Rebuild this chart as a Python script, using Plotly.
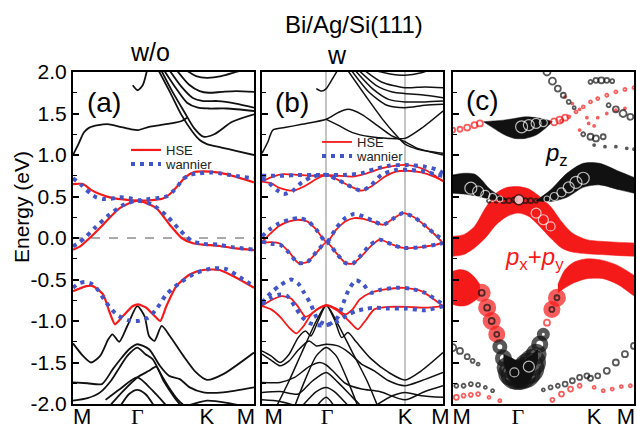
import plotly.graph_objects as go

# ---------------- ticks / labels ----------------
K_LABELS = ["M", "<span style='font-family:Liberation Serif'>Γ</span>", "K", "M"]
K_TICKS_A = [0.05, 0.355, 0.74, 0.955]
K_TICKS_B = [0.065, 0.36, 0.79, 0.985]
K_TICKS_C = [0.05, 0.36, 0.78, 0.955]
B_SYM_LINES = [0.355, 0.788]          # Γ and K guide lines in panel (b)
E_TICKS = [2.0, 1.5, 1.0, 0.5, 0.0, -0.5, -1.0, -1.5, -2.0]
E_LABELS = ["2.0", "1.5", "1.0", "0.5", "0.0", "-0.5", "-1.0", "-1.5", "-2.0"]
FERMI = 0.0

# ---------------- panel (a): w/o ----------------
A_BLACK = [
    [(0, 1.0), (0.03, 1.13), (0.06, 1.27), (0.09, 1.33), (0.14, 1.36), (0.2, 1.37), (0.26, 1.34), (0.32, 1.31),
     (0.36, 1.30), (0.42, 1.34), (0.48, 1.36), (0.54, 1.38), (0.6, 1.41), (0.63, 1.45)],
    [(0.33, 1.84), (0.357, 1.78), (0.385, 1.84), (0.41, 2.03)],
    [(0.62, 2.03), (0.68, 1.95), (0.74, 1.93), (0.82, 1.95), (0.9, 2.0), (0.95, 2.03)],
    [(0.57, 2.03), (0.64, 1.85), (0.7, 1.77), (0.75, 1.75), (0.82, 1.76), (0.9, 1.77), (1.0, 1.76)],
    [(0.53, 2.03), (0.6, 1.82), (0.66, 1.69), (0.72, 1.65), (0.8, 1.65), (0.9, 1.62), (1.0, 1.57)],
    [(0.5, 2.03), (0.57, 1.80), (0.63, 1.63), (0.69, 1.57), (0.75, 1.56), (0.85, 1.56), (1.0, 1.53)],
    [(0.485, 2.03), (0.55, 1.76), (0.62, 1.50), (0.67, 1.32), (0.72, 1.22), (0.78, 1.25), (0.88, 1.40), (1.0, 1.49)],
    [(0.47, 2.03), (0.54, 1.74), (0.6, 1.48), (0.66, 1.28), (0.7, 1.18), (0.74, 1.13), (0.82, 1.09), (0.9, 1.05), (1.0, 1.0)],
    [(0, -1.27), (0.055, -1.42), (0.10, -1.50), (0.15, -1.42), (0.195, -1.22), (0.218, -1.16), (0.255, -1.25),
     (0.30, -1.06), (0.355, -0.82), (0.395, -0.94), (0.42, -1.18), (0.45, -1.24), (0.49, -1.06), (0.535, -1.18),
     (0.61, -1.42), (0.68, -1.62), (0.74, -1.71), (0.83, -1.64), (1.0, -1.38)],
    [(0, -1.74), (0.08, -1.75), (0.16, -1.76), (0.22, -1.58), (0.27, -1.44), (0.31, -1.34), (0.355, -1.28),
     (0.42, -1.34), (0.48, -1.54), (0.53, -1.66), (0.59, -1.70), (0.645, -1.80), (0.72, -1.86), (0.83, -1.86), (1.0, -1.80)],
    [(0, -1.96), (0.08, -1.93), (0.15, -1.86), (0.21, -1.72), (0.26, -1.55), (0.30, -1.42), (0.355, -1.32),
     (0.40, -1.40), (0.44, -1.46), (0.48, -1.62), (0.53, -1.80), (0.58, -1.95), (0.62, -2.03)],
    [(0.2, -2.03), (0.27, -1.86), (0.355, -1.68), (0.42, -1.60), (0.46, -1.55), (0.50, -1.72), (0.56, -1.92), (0.6, -2.03)],
    [(0.18, -1.95), (0.26, -1.82), (0.355, -1.68), (0.44, -1.84), (0.52, -2.03)],
    [(0.26, -2.03), (0.31, -1.88), (0.355, -1.83), (0.40, -1.88), (0.45, -2.03)],
    [(0.62, -2.03), (0.74, -1.96), (0.86, -1.99), (0.95, -2.03)],
]
A_HSE = [
    [(0, 0.65), (0.055, 0.65), (0.10, 0.58), (0.147, 0.53), (0.22, 0.48), (0.357, 0.45), (0.45, 0.46), (0.50, 0.48),
     (0.535, 0.53), (0.571, 0.61), (0.62, 0.73), (0.663, 0.79), (0.755, 0.80), (0.847, 0.77), (1.0, 0.67)],
    [(0, -0.14), (0.04, -0.10), (0.092, 0.0), (0.166, 0.16), (0.258, 0.36), (0.357, 0.45), (0.46, 0.36), (0.534, 0.16),
     (0.60, 0.0), (0.663, -0.064), (0.718, -0.08), (0.81, -0.096), (0.90, -0.125), (1.0, -0.145)],
    [(0, -0.64), (0.074, -0.58), (0.11, -0.58), (0.166, -0.68), (0.203, -0.90), (0.232, -1.04), (0.276, -0.94),
     (0.331, -0.82), (0.359, -0.80), (0.405, -0.84), (0.451, -0.94), (0.482, -1.0), (0.516, -0.82), (0.571, -0.58),
     (0.645, -0.44), (0.718, -0.385), (0.81, -0.385), (0.902, -0.48), (1.0, -0.60)],
]
A_WAN = [
    [(0, 0.72), (0.046, 0.64), (0.074, 0.58), (0.101, 0.53), (0.129, 0.49), (0.166, 0.47), (0.2, 0.47), (0.258, 0.49),
     (0.313, 0.48), (0.36, 0.455), (0.42, 0.47), (0.46, 0.48), (0.516, 0.50), (0.552, 0.56), (0.58, 0.63), (0.608, 0.71),
     (0.645, 0.76), (0.70, 0.78), (0.755, 0.79), (0.81, 0.78), (0.866, 0.76), (0.92, 0.74), (1.0, 0.72)],
    [(0, -0.10), (0.03, -0.06), (0.074, 0.02), (0.12, 0.12), (0.2, 0.28), (0.28, 0.40), (0.357, 0.45), (0.44, 0.40),
     (0.52, 0.26), (0.58, 0.12), (0.625, 0.02), (0.66, -0.04), (0.72, -0.07), (0.8, -0.08), (0.88, -0.11), (1.0, -0.14)],
    [(0, -0.60), (0.03, -0.55), (0.064, -0.53), (0.1, -0.55), (0.129, -0.60), (0.184, -0.78), (0.24, -0.92),
     (0.304, -0.99), (0.359, -1.0), (0.414, -0.96), (0.46, -0.86), (0.516, -0.68), (0.59, -0.54), (0.68, -0.42),
     (0.773, -0.365), (0.847, -0.375), (0.94, -0.50), (1.0, -0.58)],
]

# ---------------- panel (b): w ----------------
B_BLACK = [
    [(0.3, 1.80), (0.33, 1.77), (0.355, 1.80), (0.39, 1.92), (0.42, 2.03)],
    [(0, 1.02), (0.033, 1.16), (0.06, 1.30), (0.125, 1.33), (0.22, 1.37), (0.355, 1.43), (0.42, 1.51), (0.475, 1.55),
     (0.55, 1.49), (0.64, 1.35), (0.71, 1.24), (0.79, 1.16), (0.86, 1.08), (1.0, 1.0)],
    [(0.355, 1.43), (0.42, 1.36), (0.5, 1.27), (0.6, 1.22), (0.7, 1.20), (0.79, 1.20), (0.88, 1.32), (1.0, 1.53)],
    [(0.6, 2.03), (0.7, 1.98), (0.79, 1.96), (0.88, 1.99), (0.93, 2.03)],
    [(0.56, 2.03), (0.66, 1.88), (0.79, 1.81), (0.9, 1.82), (1.0, 1.81)],
    [(0.53, 2.03), (0.63, 1.84), (0.72, 1.76), (0.79, 1.74), (0.9, 1.72), (1.0, 1.69)],
    [(0.51, 2.03), (0.61, 1.80), (0.7, 1.67), (0.79, 1.64), (0.9, 1.64), (1.0, 1.65)],
    [(0.49, 2.03), (0.59, 1.76), (0.69, 1.60), (0.79, 1.57), (0.9, 1.60), (1.0, 1.61)],
    [(0.47, 2.03), (0.57, 1.72), (0.67, 1.42), (0.74, 1.24), (0.79, 1.13), (0.86, 1.07), (1.0, 1.02)],
    [(0, -1.36), (0.05, -1.42), (0.1, -1.50), (0.15, -1.40), (0.2, -1.20), (0.24, -1.12), (0.27, -1.18), (0.31, -1.0),
     (0.355, -0.81), (0.40, -0.98), (0.44, -1.2), (0.475, -1.14), (0.52, -1.25), (0.6, -1.45), (0.7, -1.62),
     (0.79, -1.71), (0.88, -1.6), (1.0, -1.38)],
    [(0, -1.40), (0.05, -1.47), (0.1, -1.54), (0.15, -1.48), (0.2, -1.35), (0.26, -1.24), (0.3, -1.30), (0.355, -1.28),
     (0.42, -1.3), (0.48, -1.38), (0.55, -1.52), (0.62, -1.6), (0.7, -1.72), (0.79, -1.78), (0.88, -1.72), (1.0, -1.62)],
    [(0.08, -2.03), (0.15, -1.72), (0.22, -1.38), (0.3, -1.0), (0.355, -0.81), (0.42, -1.04), (0.5, -1.38),
     (0.58, -1.72), (0.64, -2.03)],
    [(0.18, -2.03), (0.24, -1.7), (0.3, -1.42), (0.355, -1.32), (0.41, -1.42), (0.47, -1.7), (0.53, -2.03)],
    [(0, -1.74), (0.1, -1.74), (0.18, -1.68), (0.26, -1.55), (0.32, -1.50), (0.355, -1.53), (0.4, -1.62), (0.46, -1.75),
     (0.55, -1.82), (0.65, -1.85), (0.79, -1.95), (0.9, -1.85), (1.0, -1.78)],
    [(0, -1.86), (0.1, -1.85), (0.2, -1.88), (0.28, -1.72), (0.355, -1.62), (0.42, -1.74), (0.5, -1.92), (0.55, -2.03)],
    [(0.22, -2.03), (0.3, -1.85), (0.355, -1.80), (0.4, -1.85), (0.48, -2.03)],
    [(0, -1.95), (0.1, -1.97), (0.2, -2.03)],
    [(0.62, -2.03), (0.72, -1.9), (0.79, -1.86), (0.88, -1.9), (1.0, -1.92)],
    [(0.3, -2.03), (0.355, -1.92), (0.4, -2.03)],
]
B_HSE = [
    [(0, 0.68), (0.06, 0.74), (0.12, 0.77), (0.2, 0.76), (0.28, 0.75), (0.355, 0.76), (0.42, 0.75), (0.5, 0.74),
     (0.58, 0.78), (0.66, 0.84), (0.73, 0.87), (0.8, 0.88), (0.88, 0.84), (0.95, 0.76), (1.0, 0.68)],
    [(0, 0.68), (0.05, 0.66), (0.1, 0.60), (0.17, 0.57), (0.24, 0.63), (0.3, 0.71), (0.355, 0.76), (0.42, 0.70),
     (0.49, 0.62), (0.55, 0.57), (0.61, 0.63), (0.68, 0.74), (0.74, 0.80), (0.8, 0.81), (0.88, 0.79), (0.95, 0.74), (1.0, 0.69)],
    [(0, -0.05), (0.04, 0.04), (0.09, 0.14), (0.15, 0.20), (0.2, 0.22), (0.25, 0.20), (0.3, 0.10), (0.357, -0.05),
     (0.41, 0.10), (0.46, 0.20), (0.51, 0.24), (0.56, 0.23), (0.62, 0.19), (0.67, 0.16), (0.73, 0.24), (0.78, 0.30),
     (0.84, 0.25), (0.9, 0.15), (0.96, 0.03), (1.0, -0.06)],
    [(0, -0.06), (0.05, -0.05), (0.1, -0.07), (0.15, -0.17), (0.2, -0.30), (0.25, -0.29), (0.3, -0.18), (0.357, -0.05),
     (0.41, -0.18), (0.46, -0.30), (0.5, -0.31), (0.55, -0.22), (0.6, -0.10), (0.65, -0.02), (0.72, -0.08),
     (0.78, -0.12), (0.88, -0.11), (0.96, -0.08), (1.0, -0.06)],
    [(0, -0.82), (0.05, -0.75), (0.11, -0.70), (0.16, -0.73), (0.2, -0.83), (0.24, -0.95), (0.27, -0.92), (0.31, -0.85),
     (0.355, -0.81), (0.41, -0.85), (0.46, -0.92), (0.5, -0.86), (0.54, -0.74), (0.6, -0.66), (0.68, -0.62),
     (0.78, -0.60), (0.88, -0.64), (1.0, -0.82)],
    [(0, -0.82), (0.05, -0.86), (0.1, -0.95), (0.15, -1.08), (0.19, -1.15), (0.23, -1.06), (0.28, -0.9), (0.355, -0.81),
     (0.42, -0.88), (0.48, -1.0), (0.53, -1.1), (0.57, -1.0), (0.62, -0.86), (0.7, -0.83), (0.8, -0.83), (0.9, -0.84), (1.0, -0.82)],
]
B_WAN = [
    [(0, 0.75), (0.05, 0.75), (0.12, 0.75), (0.2, 0.76), (0.28, 0.76), (0.355, 0.76), (0.45, 0.76), (0.55, 0.78),
     (0.62, 0.83), (0.7, 0.87), (0.8, 0.88), (0.9, 0.86), (0.97, 0.82), (1.0, 0.78)],
    [(0, 0.72), (0.04, 0.66), (0.08, 0.58), (0.12, 0.53), (0.17, 0.57), (0.22, 0.67), (0.28, 0.74), (0.355, 0.76),
     (0.42, 0.70), (0.49, 0.62), (0.55, 0.57), (0.6, 0.63), (0.66, 0.76), (0.74, 0.82), (0.82, 0.82), (0.9, 0.80),
     (0.97, 0.76), (1.0, 0.75)],
    [(0, 0.02), (0.04, 0.10), (0.09, 0.17), (0.15, 0.22), (0.2, 0.24), (0.25, 0.21), (0.3, 0.10), (0.357, -0.05),
     (0.41, 0.12), (0.46, 0.24), (0.51, 0.29), (0.56, 0.26), (0.62, 0.20), (0.67, 0.16), (0.73, 0.24), (0.78, 0.30),
     (0.84, 0.25), (0.9, 0.15), (0.96, 0.04), (1.0, -0.02)],
    [(0, -0.04), (0.05, -0.07), (0.1, -0.08), (0.15, -0.18), (0.2, -0.30), (0.25, -0.29), (0.3, -0.17), (0.357, -0.05),
     (0.41, -0.18), (0.46, -0.30), (0.5, -0.31), (0.55, -0.20), (0.6, -0.08), (0.65, -0.02), (0.72, -0.08),
     (0.78, -0.12), (0.88, -0.11), (0.96, -0.08), (1.0, -0.06)],
    [(0, -0.78), (0.05, -0.66), (0.1, -0.57), (0.16, -0.50), (0.2, -0.55), (0.23, -0.65), (0.27, -0.80), (0.3, -0.95),
     (0.33, -1.02), (0.355, -1.04), (0.38, -1.03), (0.42, -0.95), (0.45, -0.78), (0.48, -0.62), (0.52, -0.51),
     (0.56, -0.56), (0.6, -0.66), (0.66, -0.62), (0.75, -0.60), (0.82, -0.61), (0.9, -0.66), (1.0, -0.80)],
    [(0, -0.80), (0.05, -0.72), (0.1, -0.68), (0.14, -0.70), (0.18, -0.82), (0.22, -0.95), (0.26, -1.02), (0.3, -1.05),
     (0.355, -1.05), (0.42, -1.0), (0.47, -0.93), (0.52, -0.88), (0.58, -0.85), (0.62, -0.84), (0.7, -0.85),
     (0.8, -0.85), (0.9, -0.87), (1.0, -0.82)],
]

# ---------------- panel (c): orbital-projected fat bands ----------------
C_FAT_RED = [
    ([0.0, 0.06, 0.12, 0.18, 0.24, 0.30, 0.36, 0.42, 0.48, 0.54, 0.60, 0.66, 0.74, 0.82, 0.90, 1.0],
     [0.02, 0.04, 0.14, 0.36, 0.54, 0.61, 0.62, 0.59, 0.50, 0.38, 0.20, 0.06, -0.02, -0.04, -0.05, -0.06],
     [-0.22, -0.20, -0.12, 0.00, 0.16, 0.26, 0.30, 0.26, 0.14, 0.00, -0.12, -0.17, -0.19, -0.20, -0.21, -0.22]),
    ([0.0, 0.04, 0.08, 0.12, 0.15],
     [-0.40, -0.38, -0.40, -0.47, -0.56],
     [-0.80, -0.82, -0.81, -0.76, -0.70]),
    ([0.58, 0.62, 0.67, 0.74, 0.83, 0.91, 1.0],
     [-0.56, -0.38, -0.29, -0.25, -0.27, -0.33, -0.45],
     [-0.66, -0.60, -0.54, -0.49, -0.49, -0.56, -0.70]),
]
C_FAT_BLACK = [
    ([0.17, 0.22, 0.28, 0.34, 0.40, 0.46, 0.51, 0.55],
     [1.40, 1.41, 1.42, 1.44, 1.46, 1.45, 1.43, 1.40],
     [1.40, 1.33, 1.25, 1.20, 1.20, 1.24, 1.32, 1.40]),
    ([0.0, 0.06, 0.12, 0.16, 0.20, 0.25, 0.30],
     [0.76, 0.78, 0.77, 0.70, 0.60, 0.52, 0.46],
     [0.54, 0.53, 0.51, 0.49, 0.47, 0.46, 0.46]),
    ([0.46, 0.54, 0.63, 0.72, 0.81, 0.92, 1.0],
     [0.45, 0.58, 0.78, 0.90, 0.90, 0.80, 0.73],
     [0.45, 0.44, 0.49, 0.61, 0.64, 0.58, 0.54]),
    ([0.28, 0.32, 0.36, 0.40, 0.44, 0.47],
     [-1.40, -1.44, -1.48, -1.46, -1.40, -1.34],
     [-1.50, -1.72, -1.80, -1.78, -1.66, -1.46]),
]
# circle chains: (k, energy, circle size)
C_RED_BIG = [
    ([0.16, 0.19, 0.215, 0.243], [-0.66, -0.84, -1.0, -1.16], [15, 15, 15, 14]),
    ([0.547, 0.575], [-0.86, -0.72], [14, 15]),
]
C_RED_SMALL = [
    ([0.52], [-1.02], [6]),
    ([0.0, 0.04, 0.08, 0.12, 0.15], [1.30, 1.31, 1.33, 1.36, 1.38], [5, 5, 6, 6, 6]),
    ([0.56, 0.59, 0.62], [1.40, 1.42, 1.45], [7, 7, 6]),
    ([0.02, 0.06, 0.1, 0.14, 0.2, 0.26], [-1.92, -1.90, -1.89, -1.88, -1.92, -1.96], [5, 4, 4, 4, 3, 3]),
    ([0.55, 0.6, 0.65, 0.7], [-1.95, -1.88, -1.82, -1.78], [4, 5, 5, 4]),
    ([0.78, 0.83, 0.88, 0.93, 0.98], [-1.80, -1.84, -1.82, -1.79, -1.78], [3, 3, 3, 3, 3]),
    ([0.60, 0.64, 0.68, 0.72, 0.76, 0.8, 0.85, 0.9, 0.95, 1.0], [1.41, 1.46, 1.52, 1.58, 1.64, 1.68, 1.72, 1.76, 1.79, 1.81],
     [3, 3, 3, 3, 3, 3, 3, 3, 3, 3]),
    ([0.7, 0.75, 0.8, 0.85, 0.9, 0.95], [1.30, 1.38, 1.45, 1.50, 1.54, 1.56], [2, 2, 2, 2, 2, 2]),
    ([0.62, 0.66, 0.7, 0.74, 0.78], [1.70, 1.62, 1.55, 1.45, 1.35], [2, 2, 2, 2, 2]),
]
C_BLACK_BLOB = ([0.26, 0.28, 0.30, 0.32, 0.34, 0.36, 0.38, 0.40, 0.42, 0.44, 0.46, 0.48, 0.50],
                [-1.31, -1.45, -1.56, -1.63, -1.66, -1.67, -1.65, -1.62, -1.57, -1.50, -1.40, -1.28, -1.16],
                [10, 12, 16, 20, 22, 22, 24, 26, 26, 22, 16, 12, 8])
C_BLACK_SMALL = [
    ([0.16, 0.19, 0.215, 0.243], [-0.66, -0.84, -1.0, -1.16], [6, 6, 6, 5]),
    ([0.547, 0.575], [-0.86, -0.72], [5, 5]),
    ([0.0, 0.04, 0.08, 0.11, 0.14], [-1.32, -1.36, -1.43, -1.48, -1.52], [7, 6, 5, 4, 3]),
    ([0.02, 0.06, 0.1, 0.14, 0.18, 0.22], [-1.78, -1.78, -1.76, -1.77, -1.80, -1.84], [4, 4, 4, 4, 3, 3]),
    ([0.5, 0.54, 0.58, 0.62, 0.66, 0.7, 0.74], [-1.83, -1.80, -1.78, -1.76, -1.72, -1.68, -1.66], [3, 4, 4, 5, 5, 5, 5]),
    ([0.76, 0.8, 0.85, 0.9, 0.95, 1.0], [-1.69, -1.66, -1.60, -1.50, -1.40, -1.30], [5, 5, 6, 6, 6, 6]),
    ([0.52, 0.55, 0.58, 0.61, 0.64, 0.67], [2.0, 1.89, 1.80, 1.72, 1.64, 1.57], [7, 7, 6, 5, 4, 3]),
    ([0.76, 0.79, 0.82, 0.85, 0.88], [1.88, 1.90, 1.90, 1.90, 1.89], [4, 5, 6, 5, 4]),
    ([0.86, 0.9, 0.94, 0.98], [1.60, 1.55, 1.50, 1.46], [4, 6, 7, 6]),
    ([0.72, 0.76, 0.79, 0.83], [1.25, 1.22, 1.20, 1.22], [4, 6, 6, 5]),
    ([0.78, 0.84, 0.9, 0.96, 1.0], [1.12, 1.10, 1.10, 1.08, 1.07], [2, 2, 2, 2, 2]),
    ([0.20, 0.24, 0.28, 0.31, 0.34], [0.45, 0.45, 0.45, 0.45, 0.46], [4, 4, 5, 5, 5]),
    ([0.40, 0.43, 0.46], [0.45, 0.45, 0.45], [5, 5, 4]),
]
C_WHITE_RINGS = [
    ([0.38, 0.42, 0.46, 0.50], [1.34, 1.36, 1.38, 1.39], [12, 11, 10, 8]),
    ([0.10, 0.14, 0.18, 0.22, 0.26], [0.60, 0.56, 0.52, 0.49, 0.47], [12, 11, 9, 8, 6]),
    ([0.52, 0.56, 0.60, 0.64, 0.68, 0.72], [0.47, 0.50, 0.55, 0.61, 0.67, 0.72], [6, 8, 9, 11, 12, 12]),
    ([0.46, 0.50, 0.54], [0.30, 0.22, 0.14], [10, 10, 9]),
    ([0.34, 0.42], [-1.62, -1.55], [9, 11]),
]
C_GAMMA_DOT = ([0.365], [0.46], [10])

# ---------------- styling ----------------
FONT = "Liberation Sans, Arial, sans-serif"
RED = "#f51a1a"
BLUE = "#4255c8"
BLACK = "#111111"
GRAY_GRID = "#c4c4c4"

fig = go.Figure()


def axes(i):
    return ("x" if i == 1 else f"x{i}"), ("y" if i == 1 else f"y{i}")


def add_line(pts, panel, color, width, dash=None, legend=None, name=None, smoothing=0.7):
    xa, ya = axes(panel)
    fig.add_trace(go.Scatter(
        x=[p[0] for p in pts], y=[p[1] for p in pts], xaxis=xa, yaxis=ya, mode="lines",
        line=dict(color=color, width=width, dash=dash, shape="spline", smoothing=smoothing),
        showlegend=legend is not None, legend=legend if legend else "legend", name=name or "",
        hoverinfo="skip"))


def add_fat(band, panel, color):
    xa, ya = axes(panel)
    f, up, lo = band
    fig.add_trace(go.Scatter(x=f, y=up, xaxis=xa, yaxis=ya, mode="lines",
                             line=dict(color=color, width=0.5, shape="spline", smoothing=0.8),
                             showlegend=False, hoverinfo="skip"))
    fig.add_trace(go.Scatter(x=f, y=lo, xaxis=xa, yaxis=ya, mode="lines", fill="tonexty", fillcolor=color,
                             line=dict(color=color, width=0.5, shape="spline", smoothing=0.8),
                             showlegend=False, hoverinfo="skip"))


def add_rings(chain, panel, color, lw, filled=None):
    xa, ya = axes(panel)
    f, e, s = chain
    if filled:
        marker = dict(symbol="circle", size=s, color=filled, line=dict(color=color, width=lw))
    else:
        marker = dict(symbol="circle-open", size=s, color=color, line=dict(width=lw))
    fig.add_trace(go.Scatter(x=f, y=e, xaxis=xa, yaxis=ya, mode="markers", marker=marker,
                             showlegend=False, hoverinfo="skip"))


WAN_DASH = "4px,5px"

# panel (a)
for b in A_BLACK:
    add_line(b, 1, BLACK, 1.8)
for i, b in enumerate(A_HSE):
    add_line(b, 1, RED, 2.2, legend="legend" if i == 0 else None, name="HSE", smoothing=0.6)
for i, b in enumerate(A_WAN):
    add_line(b, 1, BLUE, 4, dash=WAN_DASH, legend="legend3" if i == 0 else None, name="wannier")

# panel (b)
for b in B_BLACK:
    add_line(b, 2, BLACK, 1.5)
for i, b in enumerate(B_HSE):
    add_line(b, 2, RED, 1.8, legend="legend2" if i == 0 else None, name="HSE", smoothing=0.6)
for i, b in enumerate(B_WAN):
    add_line(b, 2, BLUE, 4, dash=WAN_DASH, legend="legend4" if i == 0 else None, name="wannier")

# panel (c)
for b in C_FAT_RED:
    add_fat(b, 3, RED)
for b in C_FAT_BLACK:
    add_fat(b, 3, BLACK)
for ch in C_RED_BIG:
    add_rings(ch, 3, RED, 3, filled=RED)
for ch in C_RED_SMALL:
    add_rings(ch, 3, RED, 1.8)
add_rings(C_BLACK_BLOB, 3, BLACK, 5)
for ch in C_BLACK_SMALL:
    add_rings(ch, 3, BLACK, 1.8)
for ch in C_WHITE_RINGS:
    add_rings(ch, 3, "white", 1.2)
add_rings(C_GAMMA_DOT, 3, BLACK, 1.5, filled="white")

# ---------------- layout ----------------
W, H = 637, 427
YDOM = [1 - 404 / H, 1 - 72 / H]
XDOMS = [[73 / W, 254 / W], [262 / W, 443 / W], [452.7 / W, 634 / W]]
KTICKS = [K_TICKS_A, K_TICKS_B, K_TICKS_C]

layout = dict(
    width=W, height=H, autosize=False, margin=dict(l=0, r=0, t=0, b=0, pad=0, autoexpand=False),
    paper_bgcolor="white", plot_bgcolor="white",
    font=dict(family=FONT, color="black"),
    shapes=[dict(type="line", xref="x domain", x0=0, x1=1, yref="y", y0=FERMI, y1=FERMI,
                 line=dict(color="#555555", width=1, dash="dash"), layer="below")],
)
for i in range(3):
    xa = "xaxis" if i == 0 else f"xaxis{i + 1}"
    ya = "yaxis" if i == 0 else f"yaxis{i + 1}"
    xd = dict(domain=XDOMS[i], range=[0, 1], showline=True, mirror=True, linecolor="black", linewidth=2,
              ticks="", tickmode="array", tickvals=KTICKS[i], ticktext=K_LABELS, automargin=False,
              ticklabelstandoff=-8,
              tickfont=dict(size=22, family=FONT, color="black"), showgrid=False, zeroline=False,
              fixedrange=True, anchor="y" if i == 0 else f"y{i + 1}")
    if i == 1:
        xd["minor"] = dict(tickmode="array", tickvals=B_SYM_LINES, showgrid=True, gridcolor=GRAY_GRID,
                           gridwidth=1.5, ticks="")
    yd = dict(domain=YDOM, range=[-2, 2], showline=True, mirror=True, linecolor="black", linewidth=2,
              ticks="inside", ticklen=6, tickwidth=1.5, tickcolor="black", automargin=False,
              tickmode="array", tickvals=E_TICKS, ticktext=E_LABELS,
              showticklabels=(i == 0), tickfont=dict(size=21, family=FONT, color="black"),
              minor=dict(ticks="inside", ticklen=4, tickwidth=1.2, dtick=0.25, tick0=0, tickcolor="black"),
              showgrid=False, zeroline=False, fixedrange=True, anchor="x" if i == 0 else f"x{i + 1}")
    layout[xa] = xd
    layout[ya] = yd

legend_common = dict(xanchor="left", yanchor="middle", bgcolor="rgba(0,0,0,0)", borderwidth=0,
                     font=dict(size=13, family=FONT, color="#222"), itemwidth=30, tracegroupgap=0)
layout["legend"] = dict(x=126 / W, y=1 - 150 / H, **legend_common)
layout["legend3"] = dict(x=126 / W, y=1 - 164 / H, **legend_common)
layout["legend2"] = dict(x=317 / W, y=1 - 142 / H, **legend_common)
layout["legend4"] = dict(x=317 / W, y=1 - 156 / H, **legend_common)


def ann(text, px, py, size, color="black", angle=0):
    return dict(text=text, x=px / W, y=1 - py / H, xref="paper", yref="paper", showarrow=False,
                xanchor="center", yanchor="middle", textangle=angle,
                font=dict(size=size, family=FONT, color=color))


layout["annotations"] = [
    ann("Bi/Ag/Si(111)", 354, 25, 24),
    ann("w/o", 150, 52, 25),
    ann("w", 337, 55, 25),
    ann("(a)", 104, 102, 28),
    ann("(b)", 292, 102, 28),
    ann("(c)", 482, 100, 28),
    ann("Energy (eV)", 21, 207, 21, angle=-90),
    ann("<i>p</i><sub>z</sub>", 556, 155, 24),
    ann("<i>p</i><sub>x</sub>+<i>p</i><sub>y</sub>", 534, 258, 24, color=RED),
]

fig.update_layout(**layout)

PAGE_FIX = """
document.body.style.margin = '0';
document.body.style.padding = '0';
document.body.style.overflow = 'hidden';
"""
fig.write_html("out.html", post_script=PAGE_FIX, config={"displayModeBar": False})
